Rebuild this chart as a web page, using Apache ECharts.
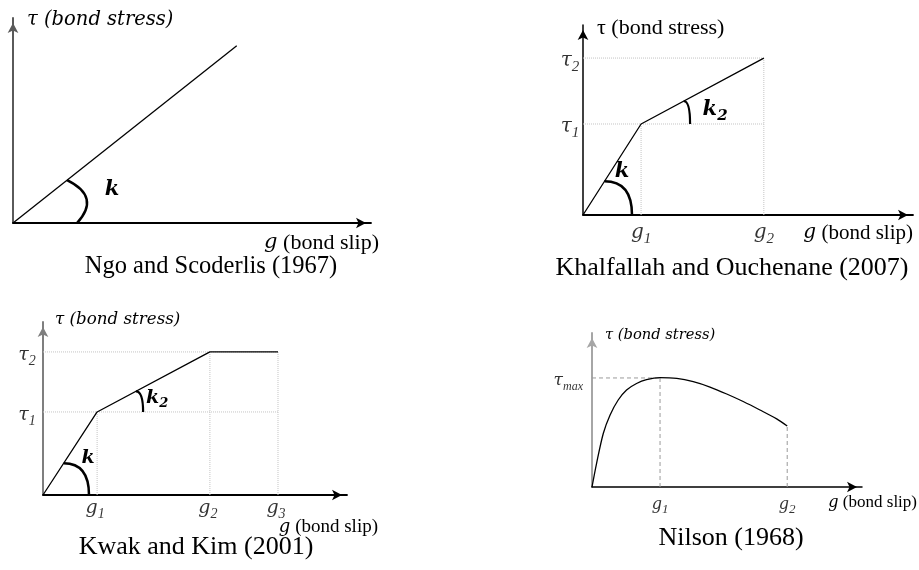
<!DOCTYPE html>
<html><head><meta charset="utf-8">
<script src="https://cdn.jsdelivr.net/npm/echarts@6/dist/echarts.min.js"></script>
<style>html,body{margin:0;padding:0;background:#fff}#c{width:919px;height:570px}</style>
</head><body><div id="c"></div>
<script>
// ---------------- data ----------------
// Panel 1: Ngo and Scoderlis (1967) – linear
const ngoSlip = [0, 6.25];
const ngoStress = [0, 8.65];
// Panel 2: Khalfallah and Ouchenane (2007) – bilinear
const khSlip = [0, 1.76, 5.48];
const khStress = [0, 4.79, 8.26];
// Panel 3: Kwak and Kim (2001) – trilinear with plateau
const kwSlip = [0, 1.78, 5.49, 7.73];
const kwStress = [0, 4.80, 8.27, 8.27];
// Panel 4: Nilson (1968) – curve
const niSlip = [0, 0.17, 0.42, 0.67, 0.97, 1.28, 1.65, 2.02, 2.52, 3.14, 3.75, 4.37, 4.99, 5.60, 6.22, 6.84, 7.23];
const niStress = [0, 1.54, 3.49, 4.68, 5.65, 6.30, 6.72, 6.97, 7.10, 7.05, 6.84, 6.49, 6.04, 5.55, 5.00, 4.42, 3.96];
const niG1 = 2.52, niG2 = 7.23, niTauMax = 7.08, niTauEnd = 3.96;

const titles = ['Ngo and Scoderlis (1967)', 'Khalfallah and Ouchenane (2007)', 'Kwak and Kim (2001)', 'Nilson (1968)'];
const stressName = 'τ (bond stress)';
const slipSymbol = 'g';
const slipWord = ' (bond slip)';
const khSlipTicks = [['g', '1'], ['g', '2']];
const khStressTicks = [['τ', '1'], ['τ', '2']];
const kwSlipTicks = [['g', '1'], ['g', '2'], ['g', '3']];
const kwStressTicks = [['τ', '1'], ['τ', '2']];
const niSlipTicks = [['g', '1'], ['g', '2']];
const niStressTicks = [['τ', 'max']];

// ---------------- helpers ----------------
const pairs = (xs, ys) => xs.map((x, i) => [x, ys[i]]);
const MATH = 'DejaVu Serif';
const TIMES = 'Liberation Serif';

const grids = [
  {left: 13, top: 18, width: 358, height: 205},
  {left: 583, top: 25, width: 330, height: 190},
  {left: 43, top: 322, width: 304, height: 173},
  {left: 592, top: 333, width: 270, height: 154}
].map(g => Object.assign({containLabel: false, outerBoundsMode: 'none'}, g));

// x-name: [fontSize, overhang right of tip, vertical center offset]
const xNameCfg = [[22, 8, 20], [21, 0, 18], [19, 31, 32], [17, 55, 16]];
// y-name: [font, italic, fontSize, left pad, gap]
const yNameCfg = [[MATH, 'italic', 19.5, 14, -2], [TIMES, 'normal', 22, 14, -3], [MATH, 'italic', 16.7, 12, 2], [MATH, 'italic', 14.7, 13, -2]];
const yAxisColor = ['#5a5a5a', '#000', '#7f7f7f', '#a6a6a6'];
const yAxisWidth = [2, 1.5, 2, 2];

const xAxes = grids.map((g, i) => ({
  type: 'value', gridIndex: i, min: 0, max: 10,
  splitLine: {show: false}, axisTick: {show: false}, axisLabel: {show: false},
  axisLine: {show: true, onZero: false, lineStyle: {color: '#000', width: i === 3 ? 1.5 : 1.8},
    symbol: ['none', 'arrow'], symbolSize: [8, 10], symbolOffset: [0, -5]},
  name: '{g|' + slipSymbol + '}' + slipWord,
  nameLocation: 'end', nameGap: xNameCfg[i][1], nameMoveOverlap: false,
  nameTextStyle: {fontFamily: TIMES, fontSize: xNameCfg[i][0], color: '#000', align: 'right', verticalAlign: 'middle',
    padding: [xNameCfg[i][2] * 2, 0, 0, 0],
    rich: {g: {fontFamily: MATH, fontStyle: 'italic', fontSize: xNameCfg[i][0] - 1, color: '#000'}}}
}));
const yAxes = grids.map((g, i) => ({
  type: 'value', gridIndex: i, min: 0, max: 10,
  splitLine: {show: false}, axisTick: {show: false}, axisLabel: {show: false},
  axisLine: {show: true, onZero: false, lineStyle: {color: yAxisColor[i], width: yAxisWidth[i]},
    symbol: ['none', 'arrow'], symbolSize: [8, 10], symbolOffset: [0, -5]},
  name: stressName, nameLocation: 'end', nameGap: yNameCfg[i][4], nameMoveOverlap: false,
  nameTextStyle: {fontFamily: yNameCfg[i][0], fontStyle: yNameCfg[i][1], fontSize: yNameCfg[i][2], color: '#000',
    align: 'left', verticalAlign: 'middle', padding: [0, 0, 0, yNameCfg[i][3]]}
}));

function curve(gi, xs, ys, extra) {
  return Object.assign({type: 'line', xAxisIndex: gi, yAxisIndex: gi, data: pairs(xs, ys), symbol: 'none',
    silent: true, z: 3, lineStyle: {color: '#000', width: 1.3}, animation: false}, extra || {});
}
const dotted = {color: '#c4c4c4', width: 1, type: 'dotted'};
const dashed = {color: '#9a9a9a', width: 1, type: [4, 3]};
function guide(gi, a, b, style) {
  return {type: 'line', xAxisIndex: gi, yAxisIndex: gi, data: [a, b], symbol: 'none', silent: true,
    z: 1, lineStyle: style, animation: false};
}
function tickLabels(gi, pts, labels, fs, subFs, offset, align) {
  return {type: 'scatter', xAxisIndex: gi, yAxisIndex: gi, data: pts, symbolSize: 1, silent: true, z: 5,
    itemStyle: {color: 'transparent'}, animation: false,
    label: {show: true, position: 'inside', offset: offset, align: align || 'center', verticalAlign: 'middle',
      fontSize: fs, fontFamily: MATH,
      formatter: p => '{b|' + labels[p.dataIndex][0] + '}{s|' + labels[p.dataIndex][1] + '}',
      rich: {
        b: {fontFamily: MATH, fontStyle: 'italic', fontSize: fs, lineHeight: Math.round(fs * 1.35), color: '#000'},
        s: {fontFamily: TIMES, fontStyle: 'italic', fontSize: subFs, lineHeight: subFs, verticalAlign: 'bottom', color: '#000'}
      }}};
}
// angle marks: quadratic curve from a point on the segment (radius r1) to a point on the horizontal (radius r2)
function angleMarks(gi, items) {
  return {type: 'custom', xAxisIndex: gi, yAxisIndex: gi, silent: true, z: 6, animation: false,
    data: items.map(it => it.seg), encode: {x: [0, 2], y: [1, 3]},
    renderItem(params, api) {
      const it = items[params.dataIndex];
      const v = api.coord([api.value(0), api.value(1)]);
      const p = api.coord([api.value(2), api.value(3)]);
      const a = Math.atan2(p[1] - v[1], p[0] - v[0]);
      const sx = v[0] + it.r1 * Math.cos(a), sy = v[1] + it.r1 * Math.sin(a);
      const ex = v[0] + it.r2, ey = v[1];
      let cx, cy;
      if (it.cr) { cx = v[0] + it.cr * Math.cos(a * it.cf); cy = v[1] + it.cr * Math.sin(a * it.cf); }
      else { cx = ex; cy = sy; }
      const txt = it.sub ? '{k|k}{s|' + it.sub + '}' : '{k|k}';
      return {type: 'group', children: [
        {type: 'bezierCurve', shape: {x1: sx, y1: sy, x2: ex, y2: ey, cpx1: cx, cpy1: cy},
          style: {stroke: '#000', lineWidth: it.w, fill: 'none'}},
        {type: 'text', x: v[0] + it.dx, y: v[1] + it.dy,
          style: {text: txt, align: 'center', verticalAlign: 'middle', fill: '#000',
            rich: {
              k: {fontFamily: MATH, fontStyle: 'italic', fontWeight: 'bold', fontSize: it.fs, lineHeight: Math.round(it.fs * 1.3), fill: '#000'},
              s: {fontFamily: MATH, fontStyle: 'italic', fontWeight: 'bold', fontSize: Math.round(it.fs * 0.7), lineHeight: Math.round(it.fs * 0.7), verticalAlign: 'bottom', fill: '#000'}
            }}}
      ]};
    }};
}

const series = [
  // Panel 1
  curve(0, ngoSlip, ngoStress),
  angleMarks(0, [{seg: [ngoSlip[0], ngoStress[0], ngoSlip[1], ngoStress[1]], r1: 69, r2: 64, cr: 92, cf: 0.43, w: 2.5, dx: 99, dy: -33, fs: 21}]),
  // Panel 2 guides
  guide(1, [0, khStress[2]], [khSlip[2], khStress[2]], dotted),
  guide(1, [0, khStress[1]], [khSlip[2], khStress[1]], dotted),
  guide(1, [khSlip[1], 0], [khSlip[1], khStress[1]], dotted),
  guide(1, [khSlip[2], 0], [khSlip[2], khStress[2]], dotted),
  curve(1, khSlip, khStress),
  tickLabels(1, [[khSlip[1], 0], [khSlip[2], 0]], khSlipTicks, 20, 15, [0, 18]),
  tickLabels(1, [[0, khStress[1]], [0, khStress[2]]], khStressTicks, 20, 15, [-13, 3]),
  angleMarks(1, [
    {seg: [khSlip[0], khStress[0], khSlip[1], khStress[1]], r1: 40, r2: 49, w: 2.5, dx: 39, dy: -43, fs: 21},
    {seg: [khSlip[1], khStress[1], khSlip[2], khStress[2]], r1: 48.5, r2: 49, w: 2.2, dx: 74, dy: -14, fs: 21, sub: '2'}
  ]),
  // Panel 3 guides
  guide(2, [0, kwStress[2]], [kwSlip[3], kwStress[2]], dotted),
  guide(2, [0, kwStress[1]], [kwSlip[3], kwStress[1]], dotted),
  guide(2, [kwSlip[1], 0], [kwSlip[1], kwStress[1]], dotted),
  guide(2, [kwSlip[2], 0], [kwSlip[2], kwStress[2]], dotted),
  guide(2, [kwSlip[3], 0], [kwSlip[3], kwStress[3]], dotted),
  curve(2, kwSlip, kwStress),
  tickLabels(2, [[kwSlip[1], 0], [kwSlip[2], 0], [kwSlip[3], 0]], kwSlipTicks, 19, 14, [-2, 13]),
  tickLabels(2, [[0, kwStress[1]], [0, kwStress[2]]], kwStressTicks, 19, 14, [-16, 3]),
  angleMarks(2, [
    {seg: [kwSlip[0], kwStress[0], kwSlip[1], kwStress[1]], r1: 38, r2: 46, w: 2.5, dx: 45, dy: -37, fs: 19},
    {seg: [kwSlip[1], kwStress[1], kwSlip[2], kwStress[2]], r1: 44, r2: 46, w: 2.2, dx: 60, dy: -14, fs: 19, sub: '2'}
  ]),
  // Panel 4 guides
  guide(3, [0, niTauMax], [niG1, niTauMax], dashed),
  guide(3, [niG1, 0], [niG1, niTauMax], dashed),
  guide(3, [niG2, 0], [niG2, niTauEnd], dashed),
  curve(3, niSlip, niStress, {smooth: 0.3}),
  tickLabels(3, [[niG1, 0], [niG2, 0]], niSlipTicks, 16, 13, [0, 18]),
  tickLabels(3, [[0, niTauMax]], niStressTicks, 17, 12, [-9, 3], 'right')
];

const titlePos = [[211, 267], [732, 268], [196, 547], [731, 538]];
const titleSize = [24.5, 26, 26, 26];

const chart = echarts.init(document.getElementById('c'), null, {renderer: 'canvas'});
chart.setOption({
  backgroundColor: '#fff',
  animation: false,
  grid: grids,
  xAxis: xAxes,
  yAxis: yAxes,
  series: series,
  graphic: titles.map((t, i) => ({
    type: 'text', x: titlePos[i][0], y: titlePos[i][1], silent: true,
    style: {text: t, fontFamily: TIMES, fontSize: titleSize[i], fill: '#000',
      align: 'center', verticalAlign: 'middle', textAlign: 'center', textVerticalAlign: 'middle'}
  }))
});
</script></body></html>
